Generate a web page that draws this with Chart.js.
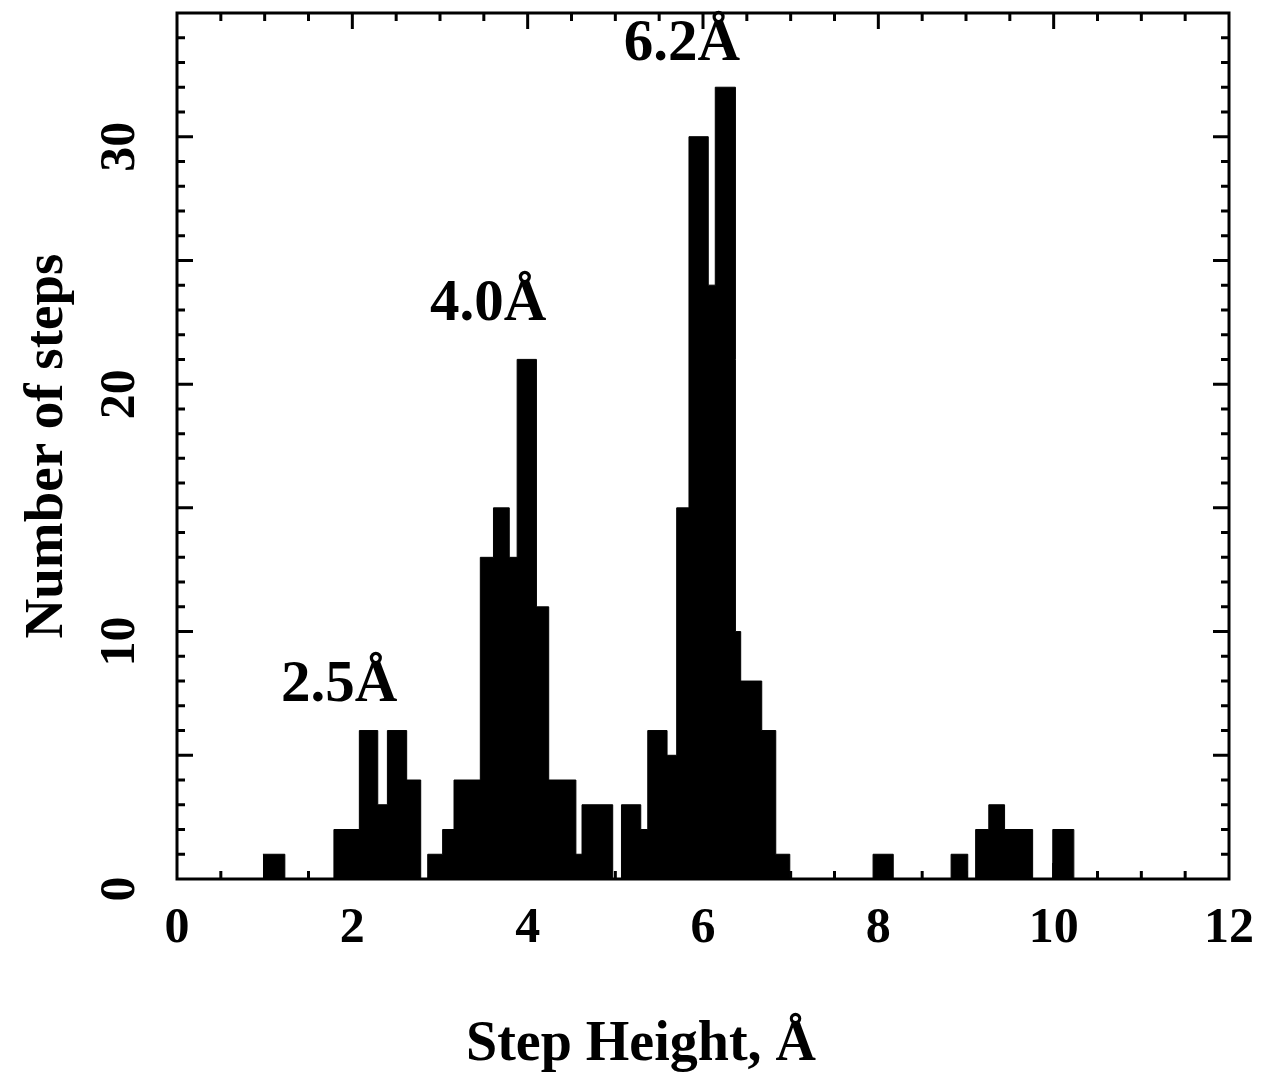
<!DOCTYPE html>
<html>
<head>
<meta charset="utf-8">
<script src="https://cdn.jsdelivr.net/npm/chart.js@4"></script>
<style>
html, body { margin: 0; padding: 0; background: #fff; }
</style>
</head>
<body>
<canvas id="chartdiv" width="1274" height="1072"></canvas>
<script>
// histogram bins (step height in Å, counts)
const binStart = [0.98, 1.79, 2.08, 2.29, 2.40, 2.62,
                  2.86, 3.03, 3.16, 3.46, 3.61, 3.79, 3.88, 4.10, 4.24, 4.55, 4.62,
                  5.07, 5.29, 5.37, 5.59, 5.70, 5.84, 6.06, 6.14, 6.37, 6.43, 6.67, 6.83,
                  7.94, 8.83, 9.11, 9.26, 9.44, 9.99]
const binEnd = [1.23, 2.08, 2.29, 2.40, 2.62, 2.78,
                3.03, 3.16, 3.46, 3.61, 3.79, 3.88, 4.10, 4.24, 4.55, 4.62, 4.97,
                5.29, 5.37, 5.59, 5.70, 5.84, 6.06, 6.14, 6.37, 6.43, 6.67, 6.83, 6.99,
                8.17, 9.02, 9.26, 9.44, 9.76, 10.23]
const stepCounts = [1, 2, 6, 3, 6, 4,
                    1, 2, 4, 13, 15, 13, 21, 11, 4, 1, 3,
                    3, 2, 6, 5, 15, 30, 24, 32, 10, 8, 6, 1,
                    1, 1, 2, 3, 2, 2]
const xTicks = [0, 2, 4, 6, 8, 10, 12]
const yTicks = [0, 10, 20, 30]
const peakNames = ['2.5Å', '4.0Å', '6.2Å']
const peakX = [1.85, 3.55, 5.76]
const peakY = [7.2, 22.6, 33.1]

const FONT = 'Liberation Serif'

// turn the bins into a stepped outline
const outline = []
for (let i = 0; i < binStart.length; i++) {
    outline.push({x: binStart[i], y: stepCounts[i]})
    if (i === binStart.length - 1 || binStart[i + 1] > binEnd[i]) {
        outline.push({x: binEnd[i], y: 0})
    }
}

const frame = {
    id: 'frame',
    afterDraw(chart) {
        const ctx = chart.ctx
        const a = chart.chartArea
        const xs = chart.scales.x
        const ys = chart.scales.y
        ctx.save()
        ctx.strokeStyle = '#000'
        ctx.fillStyle = '#000'
        ctx.lineWidth = 3
        ctx.strokeRect(a.left, a.top, a.right - a.left, a.bottom - a.top)

        ctx.beginPath()
        for (let v = 0.5; v < 12; v += 0.5) {
            const px = xs.getPixelForValue(v)
            const len = (v % 2 === 0) ? 16 : 8
            ctx.moveTo(px, a.bottom); ctx.lineTo(px, a.bottom - len)
            ctx.moveTo(px, a.top); ctx.lineTo(px, a.top + len)
        }
        for (let v = 1; v < 35; v += 1) {
            const py = ys.getPixelForValue(v)
            const len = (v % 5 === 0) ? 16 : 8
            ctx.moveTo(a.left, py); ctx.lineTo(a.left + len, py)
            ctx.moveTo(a.right, py); ctx.lineTo(a.right - len, py)
        }
        ctx.stroke()

        ctx.textAlign = 'center'
        ctx.textBaseline = 'alphabetic'

        // rotated y tick labels
        ctx.font = 'bold 50px "' + FONT + '"'
        yTicks.forEach(v => {
            ctx.save()
            ctx.translate(134, ys.getPixelForValue(v) + 10)
            ctx.rotate(-Math.PI / 2)
            ctx.fillText(String(v), 0, 0)
            ctx.restore()
        })

        // x axis title, sits left of the axis centre in the original
        ctx.font = 'bold 56px "' + FONT + '"'
        ctx.fillText('Step Height, Å', 641, 1060)

        // peak labels
        ctx.font = 'bold 59px "' + FONT + '"'
        peakNames.forEach((t, i) => {
            ctx.fillText(t, xs.getPixelForValue(peakX[i]), ys.getPixelForValue(peakY[i]))
        })
        ctx.restore()
    }
}

const myChart = new Chart(document.getElementById('chartdiv').getContext('2d'), {
    type: 'line',
    data: {datasets: [{
        data: outline,
        stepped: 'before',
        fill: 'origin',
        backgroundColor: '#000',
        borderColor: '#000',
        borderWidth: 1,
        pointRadius: 0
    }]},
    options: {
        responsive: false,
        animation: false,
        events: [],
        layout: {padding: {left: 0, right: 42, top: 13, bottom: 0}},
        plugins: {legend: {display: false}, tooltip: {enabled: false}},
        scales: {
            x: {
                type: 'linear', min: 0, max: 12,
                grid: {display: false, drawTicks: false},
                border: {display: false},
                afterBuildTicks: s => { s.ticks = xTicks.map(v => ({value: v})) },
                ticks: {color: '#000', padding: 20, maxRotation: 0,
                        font: {family: FONT, size: 50, weight: 'bold'}},
                afterFit: s => { s.height = 193 }
            },
            y: {
                type: 'linear', min: 0, max: 35,
                grid: {display: false, drawTicks: false},
                border: {display: false},
                ticks: {display: false},
                title: {display: true, text: 'Number of steps', color: '#000',
                        padding: {top: 20, bottom: 0},
                        font: {family: FONT, size: 55, weight: 'bold', lineHeight: 1}},
                afterFit: s => { s.width = 177 }
            }
        }
    },
    plugins: [frame]
})
</script>
</body>
</html>
